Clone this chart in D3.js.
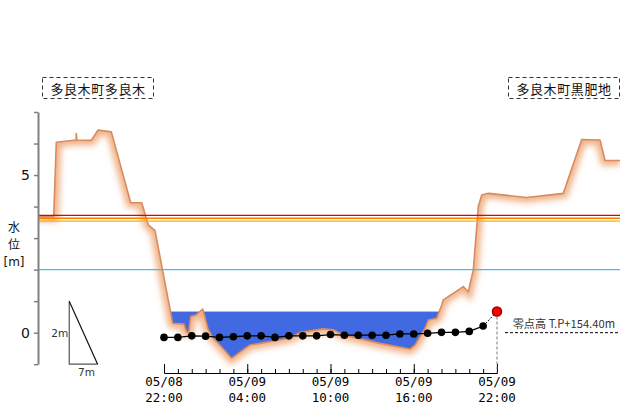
<!DOCTYPE html>
<html><head><meta charset="utf-8">
<script src="https://cdn.jsdelivr.net/npm/d3@7"></script>
<style>body{margin:0;background:#fff}svg{display:block}</style>
</head><body><svg id="c" width="630" height="410"></svg>
<script>
// ---- data ----
const timeLabels = ["05/08 22:00","05/08 23:00","05/09 00:00","05/09 01:00","05/09 02:00","05/09 03:00","05/09 04:00","05/09 05:00","05/09 06:00","05/09 07:00","05/09 08:00","05/09 09:00","05/09 10:00","05/09 11:00","05/09 12:00","05/09 13:00","05/09 14:00","05/09 15:00","05/09 16:00","05/09 17:00","05/09 18:00","05/09 19:00","05/09 20:00","05/09 21:00","05/09 22:00"];
const waterLevels = [-0.15,-0.15,-0.10,-0.11,-0.15,-0.13,-0.10,-0.10,-0.15,-0.10,-0.10,-0.10,-0.06,-0.08,-0.08,-0.08,-0.08,-0.04,-0.04,-0.02,0.01,0.01,0.04,0.21,0.67];
const majorTickLabels = ["05/08 22:00","05/09 04:00","05/09 10:00","05/09 16:00","05/09 22:00"];
const yTickValues = [-1,0,1,2,3,4,5,6,7];
const yLabelValues = [0,5];
// cross-section: distance from left bank [m], elevation [m]
const terrainDist = [0,3.87,4.51,9.37,9.44,9.56,13.14,14.79,18.07,22.85,25.56,27.19,28.84,33.2,35.99,36.65,37.15,37.64,38.94,40.6,41.9,43.1,44.86,47.74,52.26,54.72,62.11,64.58,70.32,72.79,75.25,84.3,91.69,92.93,95.39,96.2,98.27,99.51,99.9,104.83,106.06,107.3,108.53,109.37,111.0,120.46,129.48,134.01,138.53,139.76,143.45];
const terrainElev = [3.68,3.68,6.04,6.11,6.32,6.11,6.10,6.43,6.37,4.12,4.12,3.42,3.24,0.30,0.27,0.02,0.02,0.51,0.56,0.75,0.12,-0.16,-0.40,-0.81,-0.39,-0.34,-0.17,0.01,0.12,0.09,-0.07,-0.34,-0.52,-0.39,0.14,0.40,0.46,0.88,1.04,1.46,1.30,1.99,4.00,4.37,4.42,4.29,4.42,6.13,6.11,5.46,5.46];
const thresholdValues = [3.72,3.63,3.54,2.0];
const thresholdColors = ["#e00000","#ff7a00","#ffb000","#40bde8"];
const siteNames = ["多良木町多良木","多良木町黒肥地"];
const yAxisTitle = ["水","位","[m]"];
const zeroPointLabel = "零点高 T.P+154.40m";
const scaleV = 2, scaleH = 7; // legend triangle [m]

// ---- scales ----
const svg = d3.select("#c");
const parse = d3.timeParse("%m/%d %H:%M");
const times = timeLabels.map(parse);
const y = d3.scaleLinear().domain([-1,7]).range([364.2,112]);
const xd = d3.scaleLinear().domain([0,143.45]).range([38,620]);
const xt = d3.scaleTime().domain([times[0], times[times.length-1]]).range([164,497]);
const terrain = terrainDist.map((d,i)=>[d,terrainElev[i]]);

const defs = svg.append("defs");
defs.append("clipPath").attr("id","air").append("path")
  .attr("d", d3.area().x(d=>xd(d[0])).y0(0).y1(d=>y(d[1]))(terrain));
defs.append("clipPath").attr("id","ground").append("path")
  .attr("d", d3.area().x(d=>xd(d[0])).y0(d=>y(d[1])).y1(410)(terrain));
defs.append("filter").attr("id","blur").attr("x","-10%").attr("y","-10%").attr("width","120%").attr("height","120%")
  .append("feGaussianBlur").attr("stdDeviation",3);

// water
const level = waterLevels[waterLevels.length-1];
svg.append("rect").attr("x",38).attr("width",582)
  .attr("y",y(level)).attr("height",410-y(level))
  .attr("fill","#4169e1").attr("clip-path","url(#air)");

// terrain glow + line
const tLine = d3.line().x(d=>xd(d[0])).y(d=>y(d[1]));
svg.append("g").attr("clip-path","url(#ground)")
  .append("path").attr("d",tLine(terrain)).attr("fill","none")
  .attr("stroke","#f0b186").attr("stroke-width",10).attr("filter","url(#blur)");
svg.append("path").attr("d",tLine(terrain)).attr("fill","none")
  .attr("stroke","#d98b5e").attr("stroke-width",1.6).attr("stroke-linejoin","round");

// threshold lines
svg.selectAll("line.th").data(thresholdValues).join("line")
  .attr("x1",38).attr("x2",620).attr("y1",d=>y(d)).attr("y2",d=>y(d))
  .attr("stroke",(d,i)=>thresholdColors[i]).attr("stroke-width",1.3);

// y axis
const ya = svg.append("g").attr("transform","translate(38,0)")
  .call(d3.axisLeft(y).tickValues(yTickValues).tickSize(4).tickSizeOuter(0).tickPadding(4)
    .tickFormat(d=>yLabelValues.includes(d)?String(d):""));
ya.select(".domain").attr("stroke","#808080").attr("stroke-width",2);
ya.selectAll(".tick line").attr("stroke","#808080").attr("stroke-width",1.5);
ya.selectAll("text").attr("font-size",14).attr("font-family","DejaVu Sans, sans-serif").attr("fill","#111");

svg.selectAll("text.yt").data(yAxisTitle).join("text")
  .attr("x",14).attr("y",(d,i)=>231.5+i*17).attr("text-anchor","middle")
  .attr("font-family",(d,i)=>i<2?"Noto Sans CJK JP":"DejaVu Sans, sans-serif")
  .attr("font-size",12).attr("fill","#111").text(d=>d);

// x axis
const xa = svg.append("g").attr("transform","translate(0,373)");
xa.append("g").call(d3.axisBottom(xt).tickValues(times).tickSize(-4).tickSizeOuter(0).tickFormat(""));
xa.append("g").call(d3.axisBottom(xt).tickValues(majorTickLabels.map(parse)).tickSize(-9).tickSizeOuter(0).tickFormat(""));
xa.selectAll("path,line").attr("stroke","#000");
const lbl = svg.selectAll("text.xl").data(majorTickLabels).join("text")
  .attr("text-anchor","middle").attr("font-family","DejaVu Sans Mono, monospace").attr("font-size",12.5).attr("fill","#000");
lbl.append("tspan").attr("x",d=>xt(parse(d))).attr("y",386).text(d=>d.split(" ")[0]);
lbl.append("tspan").attr("x",d=>xt(parse(d))).attr("y",402).text(d=>d.split(" ")[1]);

// water level series
const pts = times.map((t,i)=>[xt(t), y(waterLevels[i])]);
const n = pts.length;
svg.append("path").attr("d",d3.line()(pts.slice(0,n-1))).attr("fill","none").attr("stroke","#000").attr("stroke-width",1.3);
svg.append("path").attr("d",d3.line()(pts.slice(n-2))).attr("fill","none").attr("stroke","#000").attr("stroke-width",1).attr("stroke-dasharray","2,1.5");
svg.append("line").attr("x1",pts[n-1][0]).attr("x2",pts[n-1][0]).attr("y1",pts[n-1][1]).attr("y2",373)
  .attr("stroke","#777").attr("stroke-width",1).attr("stroke-dasharray","3,2");
svg.selectAll("circle.p").data(pts.slice(0,n-1)).join("circle")
  .attr("cx",d=>d[0]).attr("cy",d=>d[1]).attr("r",3.8).attr("fill","#000");
svg.append("circle").attr("cx",pts[n-1][0]).attr("cy",pts[n-1][1]).attr("r",4.5)
  .attr("fill","#ff0000").attr("stroke","#a00000").attr("stroke-width",1.6);

// zero point
svg.append("line").attr("x1",505).attr("x2",620).attr("y1",y(0)).attr("y2",y(0))
  .attr("stroke","#000").attr("stroke-dasharray","3,2");
svg.append("text").attr("x",615).attr("y",328).attr("text-anchor","end")
  .attr("font-family","Noto Sans CJK JP").attr("font-size",11.2).attr("fill","#333").text(zeroPointLabel);

// site boxes
const boxes = [{x:42,w:111},{x:508,w:111}];
boxes.forEach((b,i)=>{
  svg.append("rect").attr("x",b.x+0.5).attr("y",77.5).attr("width",b.w).attr("height",21)
    .attr("fill","none").attr("stroke","#333").attr("stroke-dasharray","4,3");
  svg.append("text").attr("x",b.x+b.w/2+0.5).attr("y",93.5).attr("text-anchor","middle")
    .attr("font-family","Noto Sans CJK JP").attr("font-size",13).attr("letter-spacing",0.6)
    .attr("fill","#111").text(siteNames[i]);
});

// scale triangle
const tx0 = xd(7.7), tx1 = xd(7.7+scaleH), ty0 = y(-1), ty1 = y(-1+scaleV);
svg.append("path").attr("d",`M${tx0},${ty1}V${ty0}H${tx1}`).attr("fill","none").attr("stroke","#555").attr("stroke-width",1.2);
svg.append("line").attr("x1",tx0).attr("y1",ty1).attr("x2",tx1).attr("y2",ty0).attr("stroke","#111").attr("stroke-width",1.2);
svg.append("text").attr("x",tx0-1).attr("y",(ty0+ty1)/2+4).attr("text-anchor","end")
  .attr("font-family","DejaVu Sans, sans-serif").attr("font-size",10.5).attr("fill","#333").text(scaleV+"m");
svg.append("text").attr("x",(tx0+tx1)/2+3).attr("y",ty0+12).attr("text-anchor","middle")
  .attr("font-family","DejaVu Sans, sans-serif").attr("font-size",10.5).attr("fill","#333").text(scaleH+"m");
</script></body></html>
